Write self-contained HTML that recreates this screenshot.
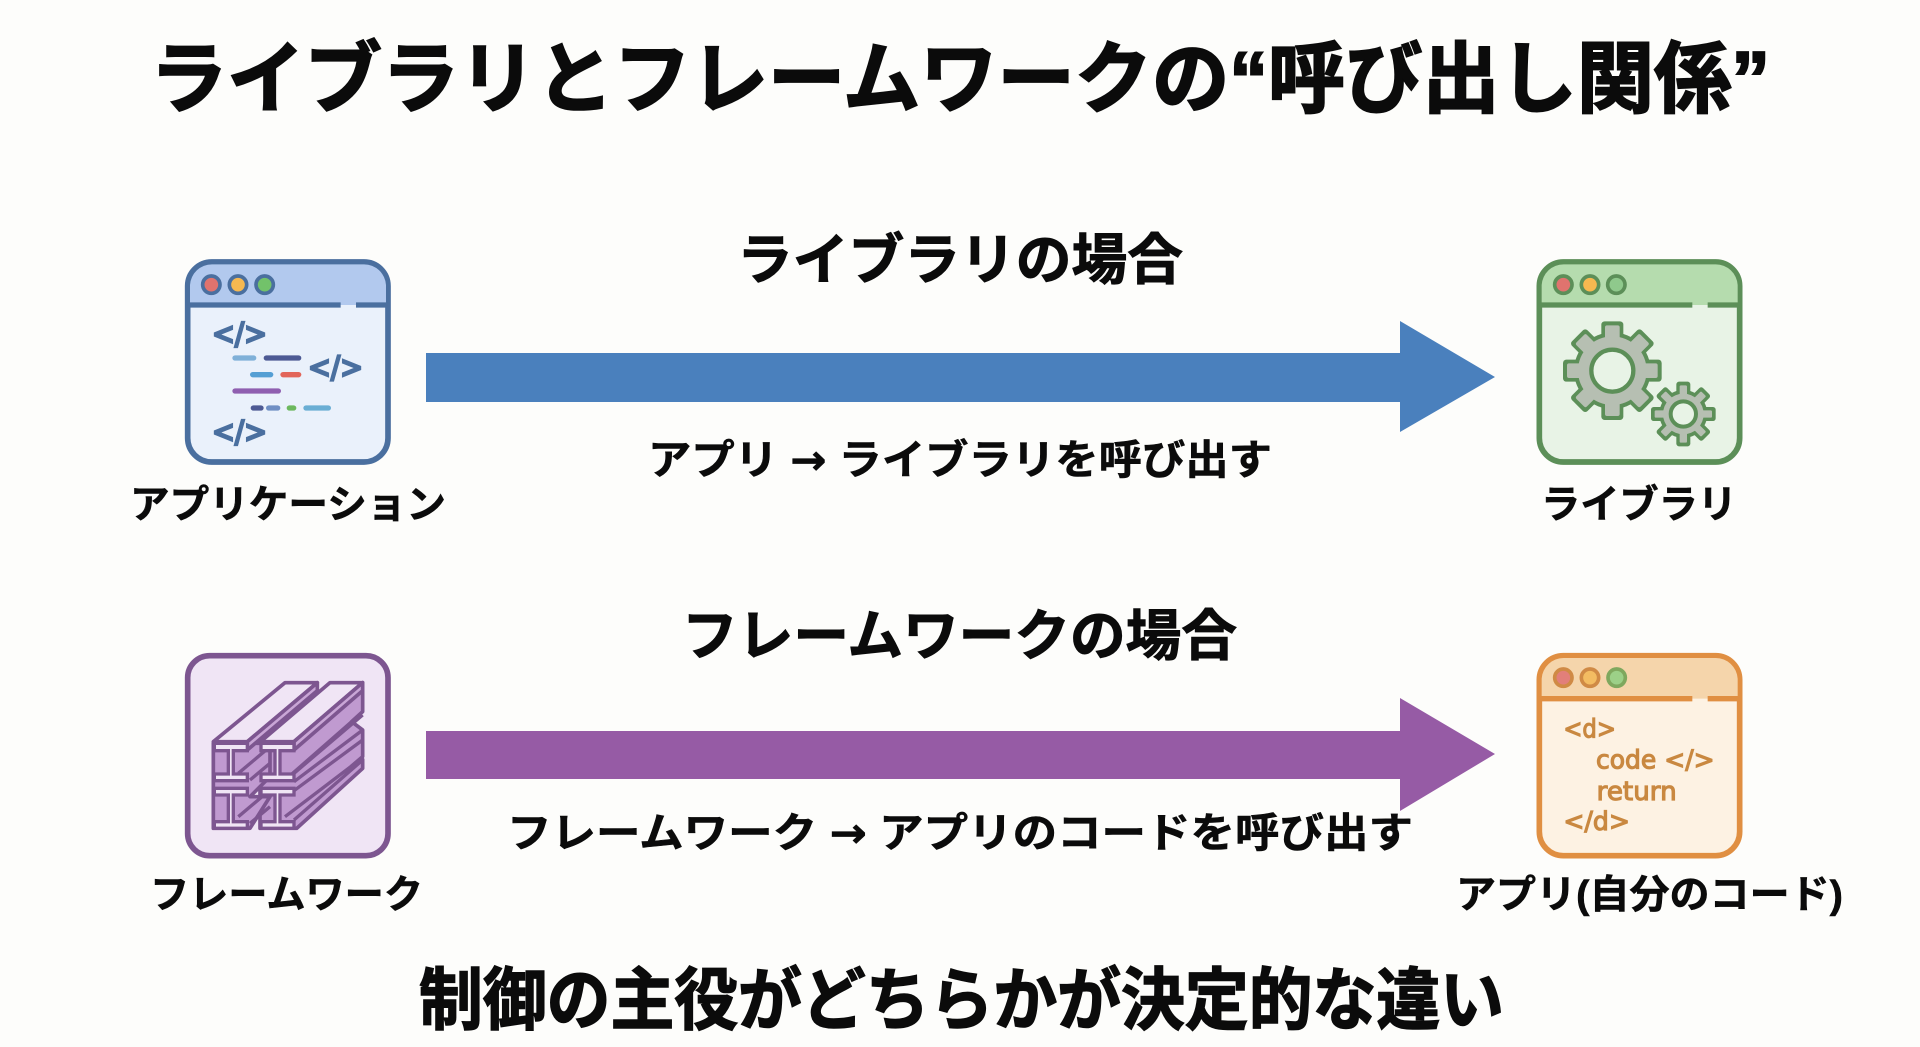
<!DOCTYPE html>
<html lang="ja"><head><meta charset="utf-8"><title>ライブラリとフレームワークの“呼び出し関係”</title>
<style>
html,body{margin:0;padding:0;background:#fdfdfb;width:1920px;height:1047px;overflow:hidden}
svg{display:block}
.t{font-family:"Liberation Sans","Noto Sans CJK JP",sans-serif;font-weight:700;fill:#0b0b0b;stroke:#0b0b0b;paint-order:stroke}
.a{font-family:"DejaVu Sans",sans-serif;font-weight:700}
.c{font-family:"DejaVu Sans","Liberation Sans",sans-serif;font-weight:700}
.h{font-family:"DejaVu Sans",sans-serif;font-weight:400}
.i{filter:blur(.5px)}
</style></head><body>
<svg width="1920" height="1047" viewBox="0 0 1920 1047" xmlns="http://www.w3.org/2000/svg">
<rect width="1920" height="1047" fill="#fdfdfb"/>

<!-- Text -->
<text class="t" x="150" y="106" font-size="78" stroke-width="2" textLength="1620" lengthAdjust="spacingAndGlyphs">ライブラリとフレームワークの“呼び出し関係”</text>
<text class="t" x="737" y="279" font-size="55" stroke-width="1" textLength="446" lengthAdjust="spacingAndGlyphs">ライブラリの場合</text>
<text class="t" x="648" y="474" font-size="41" stroke-width=".6" textLength="624" lengthAdjust="spacingAndGlyphs">アプリ <tspan class="a">→</tspan> ライブラリを呼び出す</text>
<text class="t" x="130" y="518" font-size="39" stroke-width=".6" textLength="316" lengthAdjust="spacingAndGlyphs">アプリケーション</text>
<text class="t" x="1541" y="518" font-size="39" stroke-width=".6" textLength="196" lengthAdjust="spacingAndGlyphs">ライブラリ</text>
<text class="t" x="682" y="655" font-size="55" stroke-width="1" textLength="555" lengthAdjust="spacingAndGlyphs">フレームワークの場合</text>
<text class="t" x="507" y="847" font-size="41" stroke-width=".6" textLength="906" lengthAdjust="spacingAndGlyphs">フレームワーク <tspan class="a">→</tspan> アプリのコードを呼び出す</text>
<text class="t" x="150" y="908" font-size="39" stroke-width=".6" textLength="273" lengthAdjust="spacingAndGlyphs">フレームワーク</text>
<text class="t" x="1456" y="908" font-size="39" stroke-width=".6" textLength="387" lengthAdjust="spacingAndGlyphs">アプリ(自分のコード)</text>
<text class="t" x="419" y="1024" font-size="68" stroke-width="1.5" textLength="1085" lengthAdjust="spacingAndGlyphs">制御の主役がどちらかが決定的な違い</text>

<!-- Arrows -->
<polygon points="426,353 1400,353 1400,321 1495,377 1400,432 1400,402 426,402" fill="#4a80bd"/>
<polygon points="426,731 1400,731 1400,698 1495,754 1400,811 1400,779 426,779" fill="#965ba5"/>

<!-- App icon -->
<g class="i" transform="translate(170,240) scale(.33333)">
<rect x="53" y="66" width="601" height="600" rx="72" fill="#eaf1fb" stroke="#4a6f9f" stroke-width="17"/>
<path d="M60 195V135a66 66 0 0 1 66-62H582a66 66 0 0 1 66 62V195Z" fill="#b2c9ee"/>
<path d="M53 195H512M558 195H654" stroke="#4a6f9f" stroke-width="16" fill="none"/>
<circle cx="124" cy="134" r="26" fill="#e0736e" stroke="#4a6f9f" stroke-width="11"/>
<circle cx="204" cy="134" r="26" fill="#f6b850" stroke="#4a6f9f" stroke-width="11"/>
<circle cx="284" cy="134" r="26" fill="#72c26a" stroke="#4a6f9f" stroke-width="11"/>
<g class="h" fill="#4a6f9f" stroke="#4a6f9f" stroke-width="7" font-size="90">
<text x="126" y="312" textLength="165" lengthAdjust="spacingAndGlyphs">&lt;/&gt;</text>
<text x="414" y="412" textLength="165" lengthAdjust="spacingAndGlyphs">&lt;/&gt;</text>
<text x="126" y="606" textLength="165" lengthAdjust="spacingAndGlyphs">&lt;/&gt;</text>
</g>
<g stroke-width="16" stroke-linecap="round" fill="none">
<path d="M195 354H251" stroke="#7fb0d8"/><path d="M289 354H386" stroke="#4d5a94"/>
<path d="M248 404H302" stroke="#559fd4"/><path d="M339 404H386" stroke="#e2655a"/>
<path d="M195 453H325" stroke="#8f5fb0"/>
<path d="M250 504H273" stroke="#4d5a94"/><path d="M296 504H323" stroke="#6f8fc4"/><path d="M358 504H371" stroke="#6cb85e"/><path d="M408 504H475" stroke="#6aaed4"/>
</g>
</g>

<!-- Library icon -->
<g class="i" transform="translate(1520,240) scale(.33333)">
<rect x="58" y="66" width="601" height="600" rx="72" fill="#e8f3e6" stroke="#5c8f58" stroke-width="17"/>
<path d="M65 195V135a66 66 0 0 1 66-62H587a66 66 0 0 1 66 62V195Z" fill="#b5dcae"/>
<path d="M58 195H517M563 195H659" stroke="#5c8f58" stroke-width="16" fill="none"/>
<circle cx="130" cy="134" r="26" fill="#e0736e" stroke="#5c8f58" stroke-width="11"/>
<circle cx="210" cy="134" r="26" fill="#f6b850" stroke="#5c8f58" stroke-width="11"/>
<circle cx="289" cy="134" r="26" fill="#8fc98c" stroke="#5c8f58" stroke-width="11"/>
<g transform="translate(277,392)">
<g fill="#5c8f58"><circle r="115"/><rect x="-33" y="-148" width="66" height="296" rx="10"/><rect x="-33" y="-148" width="66" height="296" rx="10" transform="rotate(45)"/><rect x="-33" y="-148" width="66" height="296" rx="10" transform="rotate(90)"/><rect x="-33" y="-148" width="66" height="296" rx="10" transform="rotate(135)"/></g>
<g fill="#b6bfb2"><circle r="103"/><rect x="-22" y="-136" width="44" height="272" rx="6"/><rect x="-22" y="-136" width="44" height="272" rx="6" transform="rotate(45)"/><rect x="-22" y="-136" width="44" height="272" rx="6" transform="rotate(90)"/><rect x="-22" y="-136" width="44" height="272" rx="6" transform="rotate(135)"/></g>
<circle r="63" fill="#e8f3e6" stroke="#5c8f58" stroke-width="13"/>
</g>
<g transform="translate(490,522)">
<g fill="#5c8f58"><circle r="72"/><rect x="-21" y="-97" width="42" height="194" rx="8"/><rect x="-21" y="-97" width="42" height="194" rx="8" transform="rotate(45)"/><rect x="-21" y="-97" width="42" height="194" rx="8" transform="rotate(90)"/><rect x="-21" y="-97" width="42" height="194" rx="8" transform="rotate(135)"/></g>
<g fill="#b6bfb2"><circle r="61"/><rect x="-11" y="-86" width="22" height="172" rx="4"/><rect x="-11" y="-86" width="22" height="172" rx="4" transform="rotate(45)"/><rect x="-11" y="-86" width="22" height="172" rx="4" transform="rotate(90)"/><rect x="-11" y="-86" width="22" height="172" rx="4" transform="rotate(135)"/></g>
<circle r="38" fill="#e8f3e6" stroke="#5c8f58" stroke-width="12"/>
</g>
</g>

<!-- Framework icon -->
<g class="i" transform="translate(170,640) scale(.33333)">
<rect x="53" y="47" width="601" height="600" rx="66" fill="#f0e5f5" stroke="#7d5690" stroke-width="17"/>
<g stroke="#7d5690" stroke-width="11" stroke-linejoin="round" fill="#c09ad0">
<polygon points="372,310 578,128 578,215 545,245 578,270 578,350 545,378 578,358 578,385 380,565 270,565 270,310"/>
<polygon points="232,310 300,310 300,410 240,470 300,470 240,565 130,565 130,310"/>
<polygon points="130,305 345,128 442,128 232,305" fill="#f0e5f5"/>
<polygon points="232,305 442,128 442,152 232,330" fill="#c9a6d6"/>
<polygon points="272,305 480,128 578,128 372,305" fill="#f0e5f5"/>
<polygon points="372,305 578,128 578,152 372,330" fill="#c9a6d6"/>
<path d="M372 400 578 225M372 425 578 270M372 452 578 300M372 540 578 360M345 420 545 245M345 530 545 378" fill="none" stroke-width="10"/>
<path d="M205 400 300 320M205 530 300 450M240 420 300 370M240 550 300 500" fill="none" stroke-width="10"/>
</g>
<g stroke="#7d5690" stroke-width="10" fill="#f0e5f5">
<path d="M133 310H232V332H190V402H232V422H133V402H175V332H133Z"/>
<path d="M133 445H232V465H190V545H232V565H133V545H175V465H133Z"/>
<path d="M273 310H372V332H330V402H372V422H273V402H315V332H273Z"/>
<path d="M273 445H372V465H330V545H372V565H273V545H315V465H273Z"/>
</g>
</g>

<!-- App code icon -->
<g class="i" transform="translate(1520,640) scale(.33333)">
<rect x="58" y="47" width="601" height="600" rx="72" fill="#fdf2e3" stroke="#e08f42" stroke-width="17"/>
<path d="M65 176V116a66 66 0 0 1 66-62H587a66 66 0 0 1 66 62V176Z" fill="#f5d5ab"/>
<path d="M58 176H517M563 176H659" stroke="#e08f42" stroke-width="16" fill="none"/>
<circle cx="130" cy="113" r="26" fill="#e27f7a" stroke="#d08a45" stroke-width="11"/>
<circle cx="210" cy="113" r="26" fill="#f3bc62" stroke="#d08a45" stroke-width="11"/>
<circle cx="290" cy="113" r="26" fill="#9cd088" stroke="#7fa85e" stroke-width="11"/>
<g class="h" fill="#c98840" stroke="#c98840" stroke-width="3.5" font-size="78">
<text x="130" y="292" textLength="158" lengthAdjust="spacingAndGlyphs">&lt;d&gt;</text>
<text x="228" y="386" textLength="356" lengthAdjust="spacingAndGlyphs">code &lt;/&gt;</text>
<text x="230" y="480" textLength="240" lengthAdjust="spacingAndGlyphs">return</text>
<text x="130" y="570" textLength="200" lengthAdjust="spacingAndGlyphs">&lt;/d&gt;</text>
</g>
</g>
</svg>
</body></html>
